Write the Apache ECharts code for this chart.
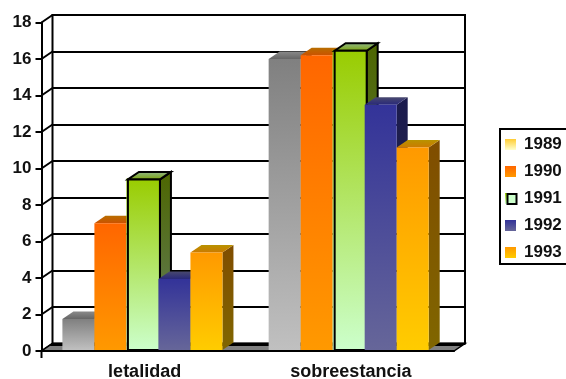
<!DOCTYPE html>
<html>
<head>
<meta charset="utf-8">
<style>html,body{margin:0;padding:0;background:#fff;overflow:hidden}#chart{width:566px;height:379px}</style>
<script src="https://cdn.jsdelivr.net/npm/echarts@6/dist/echarts.min.js"></script>
</head>
<body>
<div id="chart"></div>
<script>
const categories = ['letalidad', 'sobreestancia'];
const years = ['1989', '1990', '1991', '1992', '1993'];
const values1989 = [1.75, 16.0];
const values1990 = [7.0, 16.2];
const values1991 = [9.4, 16.45];
const values1992 = [3.95, 13.5];
const values1993 = [5.4, 11.15];
const yTicks = [0, 2, 4, 6, 8, 10, 12, 14, 16, 18];

const seriesValues = [values1989, values1990, values1991, values1992, values1993];

// Gradient stops per series: face top, face bottom
const barColors = [
  ['#808080', '#c0c0c0'],
  ['#ff6600', '#ff9900'],
  ['#99cc00', '#ccffcc'],
  ['#333399', '#666699'],
  ['#ff9900', '#ffcc00']
];
const legendColors = [
  ['#ffcc33', '#ffffcc'],
  ['#ff6600', '#ff9900'],
  ['#99cc00', '#ccffcc'],
  ['#333399', '#666699'],
  ['#ff9900', '#ffcc00']
];
const OUTLINED = 2;               // 1991 keeps its black outline
const OUTLINE_SHIFT = [1.5, 2];   // the outlined box sits slightly off its slot
const DEPTH_X = 11;               // receding offset of the 3D box
const DEPTH_Y = 7.5;
const LEFT = 41.5, TOP = 22.5, WIDTH = 412.5, HEIGHT = 328.5;
const BAR_SHARE = 0.1552;         // bar width as a share of the category band
const GROUP_SHIFT = -2.2;

const shade = (hex, k) => {
  const n = parseInt(hex.slice(1), 16);
  const c = [(n >> 16) & 255, (n >> 8) & 255, n & 255].map(v => Math.round(v * k));
  return `rgb(${c[0]},${c[1]},${c[2]})`;
};
const vgrad = (a, b) => new echarts.graphic.LinearGradient(0, 0, 0, 1, [
  { offset: 0, color: a }, { offset: 1, color: b }
]);

function boxSeries(name, idx) {
  const [c0, c1] = barColors[idx];
  return {
    name,
    type: 'custom',
    xAxisIndex: 0,
    yAxisIndex: 0,
    z: 3 + idx,
    clip: false,
    itemStyle: { color: legendColors[idx][0] },
    encode: { x: 0, y: 1 },
    data: categories.map((c, i) => [c, seriesValues[idx][i]]),
    renderItem(params, api) {
      const base = api.coord([api.value(0), 0]);
      const top = api.coord([api.value(0), api.value(1)]);
      const band = api.size([1, 0])[0];
      const w = band * BAR_SHARE;
      const slot = base[0] + GROUP_SHIFT + (idx - 2.5) * w;
      const outlined = idx === OUTLINED;
      const x = outlined ? slot + OUTLINE_SHIFT[params.dataIndex] : slot;
      const y = top[1];
      const bottom = base[1] - 1;
      const line = outlined ? { stroke: '#000', lineWidth: 2 } : { stroke: null, lineWidth: 0 };
      const children = [];
      if (outlined) {
        children.push({
          type: 'rect',
          shape: { x: slot, y: y - 1, width: w, height: bottom - y + 1 },
          style: { fill: vgrad(c0, c1) }
        });
      }
      children.push(
        {
          type: 'polygon',
          shape: { points: [[x + w, y], [x + w + DEPTH_X, y - DEPTH_Y], [x + w + DEPTH_X, bottom - DEPTH_Y], [x + w, bottom]] },
          style: { fill: vgrad(shade(c0, 0.5), shade(c1, 0.5)), ...line }
        },
        {
          type: 'polygon',
          shape: { points: [[x, y], [x + DEPTH_X, y - DEPTH_Y], [x + w + DEPTH_X, y - DEPTH_Y], [x + w, y]] },
          style: { fill: vgrad(shade(c1, 0.72), shade(c0, 0.8)), ...line }
        },
        {
          type: 'rect',
          shape: { x, y, width: w, height: bottom - y },
          style: { fill: vgrad(c0, c1), ...line }
        }
      );
      return { type: 'group', children };
    }
  };
}

// Floor, side-wall diagonals and the corner tick of the 3D frame
const frameSeries = {
  type: 'custom',
  xAxisIndex: 0,
  yAxisIndex: 0,
  z: 1,
  silent: true,
  clip: false,
  encode: { y: 0 },
  data: yTicks.map(v => [v]),
  renderItem(params, api) {
    const g = params.coordSys;
    const value = api.value(0);
    const y = api.coord([0, value])[1];
    const children = [{
      type: 'line',
      shape: { x1: g.x, y1: y, x2: g.x + DEPTH_X, y2: y - DEPTH_Y },
      style: { stroke: '#000', lineWidth: 2 }
    }];
    if (value === 0) {
      const r = g.x + g.width;
      children.push(
        {
          type: 'polygon',
          shape: { points: [[g.x, y], [g.x + DEPTH_X, y - DEPTH_Y], [r + DEPTH_X, y - DEPTH_Y], [r, y]] },
          style: { fill: '#808080', stroke: '#000', lineWidth: 1.5 }
        },
        {
          type: 'polygon',
          shape: { points: [[g.x + DEPTH_X - 3, y - DEPTH_Y + 2.5], [g.x + DEPTH_X, y - DEPTH_Y], [r + DEPTH_X, y - DEPTH_Y], [r + DEPTH_X - 3, y - DEPTH_Y + 2.5]] },
          style: { fill: '#000' }
        },
        {
          type: 'line',
          shape: { x1: g.x, y1: y, x2: g.x, y2: y + 7 },
          style: { stroke: '#000', lineWidth: 2 }
        }
      );
    }
    return { type: 'group', children };
  }
};

const font = { fontFamily: '"Liberation Sans", Arial, sans-serif', fontWeight: 'bold', color: '#111' };

const chart = echarts.init(document.getElementById('chart'), null, { renderer: 'canvas' });
chart.setOption({
  animation: false,
  backgroundColor: '#fff',
  grid: [
    { left: LEFT, top: TOP, width: WIDTH, height: HEIGHT, outerBoundsMode: 'none' },
    // back wall of the box, pushed up and to the right
    { left: LEFT + DEPTH_X, top: TOP - DEPTH_Y, width: WIDTH, height: HEIGHT, outerBoundsMode: 'none', show: true, borderColor: '#000', borderWidth: 2 }
  ],
  xAxis: [
    {
      type: 'category',
      gridIndex: 0,
      data: categories,
      z: 20,
      axisLine: { lineStyle: { color: '#000', width: 2 } },
      axisTick: { show: false },
      axisLabel: { ...font, fontSize: 18, margin: 12 }
    },
    { type: 'category', gridIndex: 1, data: categories, show: false }
  ],
  yAxis: [
    {
      type: 'value',
      gridIndex: 0,
      min: 0,
      max: 18,
      interval: 2,
      axisLine: { show: true, lineStyle: { color: '#000', width: 2 } },
      axisTick: { show: true, length: 6, lineStyle: { color: '#000', width: 2 } },
      splitLine: { show: false },
      axisLabel: { ...font, fontSize: 17, margin: 10, padding: [3, 0, 0, 0] }
    },
    {
      type: 'value',
      gridIndex: 1,
      min: 0,
      max: 18,
      interval: 2,
      axisLine: { show: false },
      axisTick: { show: false },
      axisLabel: { show: false },
      splitLine: { show: true, lineStyle: { color: '#000', width: 2 } }
    }
  ],
  legend: {
    orient: 'vertical',
    left: 500,
    top: 129,
    itemWidth: 11,
    itemHeight: 11,
    itemGap: 10,
    padding: [7, 12, 3, 5],
    borderColor: '#000',
    borderWidth: 2,
    selectedMode: false,
    textStyle: { ...font, fontSize: 17, padding: [0, 0, 0, 3] },
    data: years.map((y, i) => ({
      name: y,
      icon: 'rect',
      itemStyle: {
        color: vgrad(legendColors[i][0], legendColors[i][1]),
        borderColor: 'transparent',
        borderWidth: 0
      }
    }))
  },
  // Black frame over the 1991 legend swatch, echoing the outlined bars
  graphic: [{
    type: 'rect',
    z: 100,
    shape: { x: 507.5, y: 194, width: 9, height: 10 },
    style: { fill: '#ccffcc', stroke: '#000', lineWidth: 2 }
  }],
  series: [frameSeries, ...years.map(boxSeries)]
});
</script>
</body>
</html>
